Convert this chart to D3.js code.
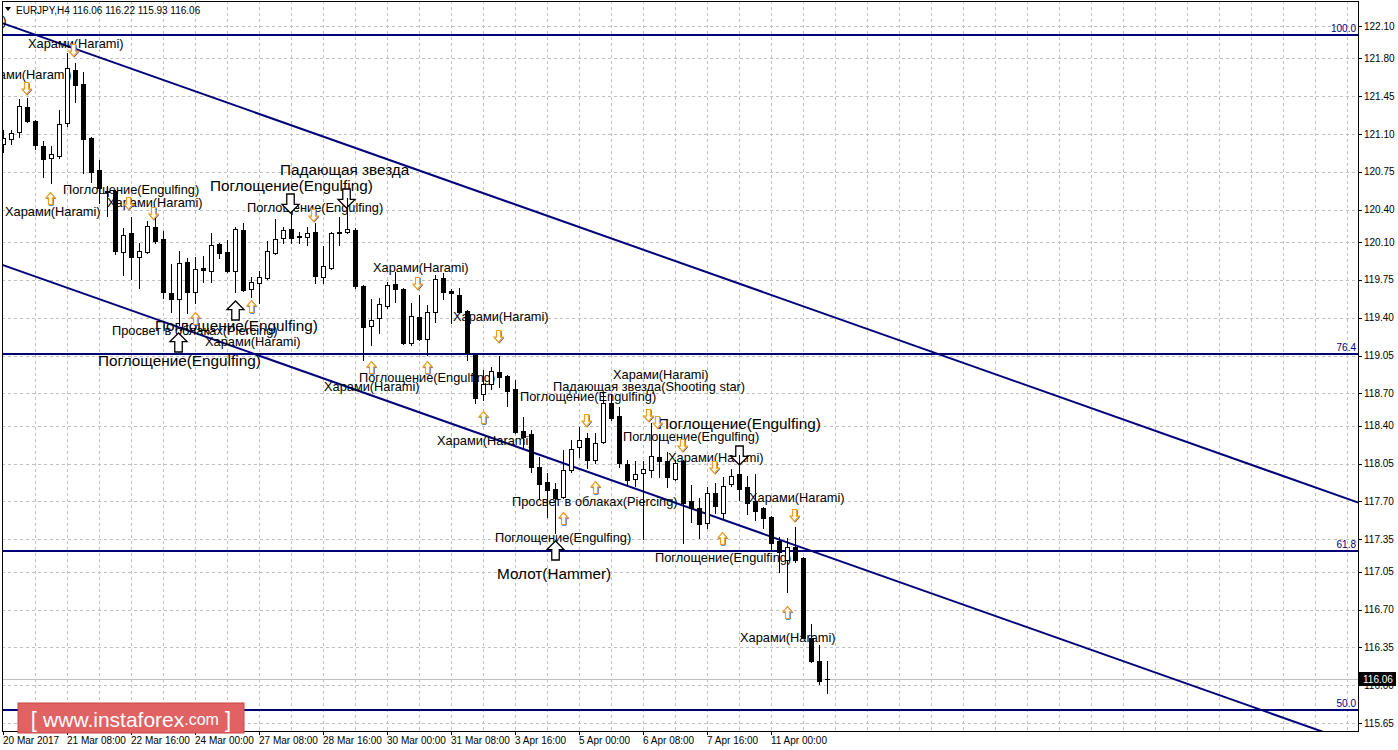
<!DOCTYPE html>
<html><head><meta charset="utf-8">
<script src="https://cdn.jsdelivr.net/npm/d3@7"></script>
<style>body{margin:0;background:#fff;overflow:hidden}svg{display:block}</style>
</head><body>
<svg id="c" width="1398" height="750"></svg>
<script>
// ---------- DATA ----------
const opens = [121.01,121.05,121.12,121.35,121.22,120.99,120.88,120.90,121.20,121.69,
121.56,121.06,120.77,120.57,120.57,120.01,120.18,119.96,120.01,120.24,
120.13,119.63,119.57,119.92,119.64,119.86,119.83,120.08,120.01,119.83,
120.21,119.67,119.72,119.77,120.00,120.14,120.22,120.16,120.15,120.19,
119.78,119.86,120.18,120.19,120.21,119.69,119.32,119.40,119.51,119.71,
119.67,119.17,119.41,119.20,119.45,119.77,119.65,119.61,119.46,119.06,
118.69,118.79,118.90,118.86,118.74,118.35,118.32,118.02,117.88,117.82,
117.74,117.99,118.20,118.29,118.08,118.25,118.61,118.49,118.05,117.91,
117.96,117.99,118.11,118.07,117.91,118.07,117.70,117.64,117.50,117.78,
117.59,117.86,117.95,117.83,117.70,117.64,117.56,117.33,117.16,117.28,
117.18,116.44,116.22,116.06];
const highs = [121.14,121.14,121.42,121.43,121.23,121.04,120.99,121.32,121.85,121.76,
121.67,121.07,120.86,120.62,120.58,120.23,120.33,120.09,120.30,120.32,
120.20,119.90,120.02,119.95,119.96,119.97,120.18,120.09,120.12,120.24,
120.28,119.78,119.83,120.11,120.31,120.24,120.37,120.19,120.24,120.28,
120.06,120.19,120.33,120.51,120.23,119.70,119.57,119.58,119.73,119.82,
119.68,119.54,119.61,119.52,119.80,119.81,119.67,119.68,119.47,119.07,
118.92,118.94,119.05,118.87,118.82,118.48,118.36,118.11,117.96,117.87,
118.18,118.27,118.39,118.33,118.33,118.71,118.69,118.57,118.08,118.07,
118.07,118.43,118.32,118.16,118.08,118.08,117.85,117.73,117.83,117.87,
117.93,118.00,118.13,117.94,117.95,117.65,117.57,117.37,117.36,117.46,
117.19,116.57,116.37,116.22];
const lows = [120.93,121.01,121.07,121.21,120.96,120.70,120.65,120.88,121.17,121.40,
120.74,120.66,120.46,120.34,119.99,119.80,119.76,119.68,120.00,120.09,
119.58,119.45,119.33,119.44,119.54,119.73,119.73,119.95,119.82,119.64,
119.65,119.59,119.54,119.76,119.99,120.09,120.09,120.09,120.07,119.72,
119.72,119.85,120.07,120.18,119.68,119.01,119.15,119.26,119.49,119.55,
119.16,119.15,119.19,119.06,119.36,119.57,119.35,119.44,119.01,118.61,
118.64,118.74,118.76,118.58,118.33,118.20,117.97,117.73,117.56,117.41,
117.73,117.97,118.11,118.01,118.06,118.24,118.45,118.02,117.85,117.84,
117.35,117.93,117.93,117.83,117.90,117.32,117.51,117.36,117.45,117.59,
117.54,117.84,117.71,117.58,117.53,117.45,117.25,117.05,116.86,117.14,
116.44,116.21,116.01,115.93];
const closes = [121.06,121.11,121.36,121.22,121.00,120.87,120.92,121.19,121.71,121.55,
121.05,120.75,120.60,120.56,120.02,120.17,119.96,120.02,120.25,120.11,
119.64,119.57,119.91,119.64,119.85,119.84,120.07,120.00,119.83,120.22,
119.66,119.73,119.78,120.02,120.13,120.21,120.14,120.15,120.18,119.79,
119.88,120.18,120.19,120.22,119.69,119.31,119.38,119.53,119.70,119.67,
119.17,119.42,119.20,119.45,119.76,119.64,119.63,119.45,119.07,118.66,
118.79,118.91,118.85,118.72,118.34,118.30,118.02,117.86,117.81,117.73,
117.99,118.19,118.27,118.08,118.24,118.61,118.47,118.06,117.90,117.95,
118.00,118.12,118.07,117.93,118.06,117.69,117.64,117.49,117.78,117.66,
117.84,117.94,117.82,117.69,117.61,117.55,117.32,117.23,117.28,117.16,
116.44,116.22,116.04,116.06];

const priceTicks = [122.10,121.80,121.45,121.10,120.75,120.40,120.10,119.75,119.40,119.05,
118.70,118.40,118.05,117.70,117.35,117.05,116.70,116.35,116.00,115.65];
const timeLabels = ["20 Mar 2017","21 Mar 08:00","22 Mar 16:00","24 Mar 00:00","27 Mar 08:00",
"28 Mar 16:00","30 Mar 00:00","31 Mar 08:00","3 Apr 16:00","5 Apr 00:00","6 Apr 08:00","7 Apr 16:00","11 Apr 00:00"];
const timeLabelBars = [0,8,16,24,32,40,48,56,64,72,80,88,96];

const fiboLabels = ["100.0","76.4","61.8","50.0"];
const fiboPrices = [122.017,119.065,117.24,115.77];

const channelUpper = [[-2,122.177],[172,117.622]];
const channelLower = [[-2,119.940],[172,115.385]];

const patternTexts = ["Харами(Harami)","Харами(Harami)","Харами(Harami)","Поглощение(Engulfing)","Харами(Harami)",
"Харами(Harami)","Поглощение(Engulfing)","Падающая звезда","Поглощение(Engulfing)","Просвет в облаках(Piercing)",
"Поглощение(Engulfing)","Харами(Harami)","Поглощение(Engulfing)","Харами(Harami)","Поглощение(Engulfing)",
"Харами(Harami)","Харами(Harami)","Харами(Harami)","Харами(Harami)","Падающая звезда(Shooting star)",
"Поглощение(Engulfing)","Поглощение(Engulfing)","Поглощение(Engulfing)","Харами(Harami)","Просвет в облаках(Piercing)",
"Поглощение(Engulfing)","Молот(Hammer)","Харами(Harami)","Поглощение(Engulfing)","Харами(Harami)"];
const patternBars = [-11.5,3.125,-3.375,7.5,0.25,13,25.875,34.625,30.5,13.625,
19,25.25,11.875,46.25,44.5,40.125,56.25,54.25,76.25,68.75,
64.625,81.875,77.5,83.125,63.625,61.5,61.75,93.25,81.5,92.125];
const patternPrices = [122.147,121.94,121.647,120.583,120.388,120.471,120.62,120.768,120.416,119.278,
119.324,119.176,119.0,119.861,118.843,118.76,119.408,118.26,118.871,118.76,
118.667,118.417,118.297,118.103,117.696,117.362,117.038,117.733,117.177,116.437];
const patternBig = [0,0,0,0,0,0,1,1,0,0, 1,0,1,0,0,0,0,0,0,0, 0,1,0,0,0,0,1,0,0,0];

const arrowBars = [8.75,2.875,5.875,15.625,18.75,35.875,38.75,42.875,21.875,29,
31,24,51.75,46,53,61.875,60,72.875,74,70,
69,80.625,81.75,84.875,88.875,92,89.875,98.875,98];
const arrowPrices = [121.878,121.527,120.51,120.462,120.37,120.462,120.352,120.51,119.176,119.472,
119.51,119.398,119.722,118.945,118.945,119.232,118.482,118.454,117.834,117.547,
117.251,118.5,118.436,118.223,118.019,118.13,117.362,117.575,116.678];
const arrowDown = [1,1,0,1,1,1,1,1,0,0, 0,0,1,0,0,1,0,1,0,0, 0,1,1,1,1,1,0,1,0];
const arrowBig = [0,0,0,0,0,1,0,1,1,1, 0,0,0,0,0,0,0,0,0,0, 1,0,0,0,0,1,0,0,0];

const header = "EURJPY,H4  116.06 116.22 115.93 116.06";
const lastPrice = 116.06;

// ---------- CHART ----------
const W = 1398, H = 750;
const P = {l: 2, r: 1358, t: 1, b: 731};
const svg = d3.select('#c');
const x = d3.scaleLinear().domain([0, 103]).range([3, 827]);
const y = d3.scaleLinear().domain([115.65, 122.10]).range([723, 26]);
const FONT = "'Liberation Sans', Arial, sans-serif";
const NAVY = "#00007a";

svg.append('rect').attr('width', W).attr('height', H).attr('fill', '#fff');
svg.append('defs').append('clipPath').attr('id', 'clip')
  .append('rect').attr('x', P.l).attr('y', P.t).attr('width', P.r - P.l).attr('height', P.b - P.t);

const g = svg.append('g').attr('clip-path', 'url(#clip)');

// grid
const gridBars = d3.range(4, 172, 4);
g.append('g').selectAll('line').data(gridBars).join('line')
  .attr('x1', d => Math.round(x(d)) + 0.5).attr('x2', d => Math.round(x(d)) + 0.5)
  .attr('y1', P.t).attr('y2', P.b)
  .attr('stroke', '#c0c0c0').attr('stroke-dasharray', '3,3');
g.append('g').selectAll('line').data(priceTicks).join('line')
  .attr('x1', P.l).attr('x2', P.r)
  .attr('y1', d => Math.round(y(d)) + 0.5).attr('y2', d => Math.round(y(d)) + 0.5)
  .attr('stroke', '#c0c0c0').attr('stroke-dasharray', '3,3');

// last price line
g.append('line').attr('x1', P.l).attr('x2', P.r)
  .attr('y1', Math.round(y(lastPrice)) + 0.5).attr('y2', Math.round(y(lastPrice)) + 0.5)
  .attr('stroke', '#c0c0c0');

// fibo lines
g.append('g').selectAll('line').data(fiboPrices).join('line')
  .attr('x1', P.l).attr('x2', P.r)
  .attr('y1', d => Math.round(y(d))).attr('y2', d => Math.round(y(d)))
  .attr('stroke', NAVY).attr('stroke-width', 2);
g.append('g').selectAll('text').data(fiboPrices).join('text')
  .attr('x', P.r - 2).attr('y', d => Math.round(y(d)) - 3)
  .attr('text-anchor', 'end').attr('fill', NAVY)
  .style('font', `10px ${FONT}`).text((d, i) => fiboLabels[i]);

// channel
const line = d3.line().x(d => x(d[0])).y(d => y(d[1]));
[channelUpper, channelLower].forEach(c => {
  g.append('path').attr('d', line(c)).attr('fill', 'none')
    .attr('stroke', NAVY).attr('stroke-width', 2);
});

// pattern texts
g.append('g').selectAll('text').data(patternTexts).join('text')
  .attr('x', (d, i) => x(patternBars[i])).attr('y', (d, i) => y(patternPrices[i]))
  .attr('dominant-baseline', 'central').attr('fill', '#000')
  .style('font-family', FONT)
  .style('font-size', (d, i) => patternBig[i] ? '15.3px' : '12.8px')
  .text(d => d);

// arrows
function arrowPath(cx, cy, w, h, down) {
  const s = w * 0.44, hh = h * 0.45;
  const x0 = cx - w / 2, x1 = cx + w / 2, s0 = cx - s / 2, s1 = cx + s / 2;
  const top = cy - h / 2, bot = cy + h / 2;
  if (down) {
    const hb = bot - hh;
    return `M${s0},${top}L${s1},${top}L${s1},${hb}L${x1},${hb}L${cx},${bot}L${x0},${hb}L${s0},${hb}Z`;
  }
  const hb = top + hh;
  return `M${s0},${bot}L${s1},${bot}L${s1},${hb}L${x1},${hb}L${cx},${top}L${x0},${hb}L${s0},${hb}Z`;
}
const ag = g.append('g');
arrowBars.forEach((b, i) => {
  const cx = Math.round(x(b)) + 0.5, cy = Math.round(y(arrowPrices[i])) + 0.5;
  if (arrowBig[i]) {
    ag.append('path').attr('d', arrowPath(cx, cy, 17, 19, arrowDown[i]))
      .attr('fill', '#fff').attr('stroke', '#000').attr('stroke-width', 1.3);
  } else {
    ag.append('path').attr('d', arrowPath(cx + 0.7, cy + 0.7, 9, 12, arrowDown[i]))
      .attr('fill', 'none').attr('stroke', '#3050c0').attr('stroke-width', 1);
    ag.append('path').attr('d', arrowPath(cx, cy, 9, 12, arrowDown[i]))
      .attr('fill', '#fff').attr('stroke', '#f0a020').attr('stroke-width', 1.2);
  }
});

// candles
const idx = d3.range(opens.length);
const cg = g.append('g').attr('shape-rendering', 'crispEdges');
idx.forEach(i => {
  const r = Math.round(x(i));
  const o = opens[i], c = closes[i];
  cg.append('line').attr('x1', r + 0.5).attr('x2', r + 0.5)
    .attr('y1', Math.round(y(highs[i]))).attr('y2', Math.round(y(lows[i])) + 1)
    .attr('stroke', '#000');
  const yt = Math.round(y(Math.max(o, c))), yb = Math.round(y(Math.min(o, c)));
  if (yb - yt < 1) {
    cg.append('line').attr('x1', r - 2).attr('x2', r + 3)
      .attr('y1', yt + 0.5).attr('y2', yt + 0.5).attr('stroke', '#000');
  } else if (c > o) {
    cg.append('rect').attr('x', r - 1.5).attr('y', yt + 0.5).attr('width', 4).attr('height', yb - yt)
      .attr('fill', '#fff').attr('stroke', '#000');
  } else {
    cg.append('rect').attr('x', r - 2).attr('y', yt).attr('width', 5).attr('height', yb - yt + 1)
      .attr('fill', '#000');
  }
});

// frame
svg.append('rect').attr('x', P.l + 0.5).attr('y', P.t + 0.5)
  .attr('width', P.r - P.l).attr('height', P.b - P.t)
  .attr('fill', 'none').attr('stroke', '#000').attr('shape-rendering', 'crispEdges');

// y axis
const ya = svg.append('g');
ya.selectAll('line').data(priceTicks).join('line')
  .attr('x1', P.r).attr('x2', P.r + 4)
  .attr('y1', d => Math.round(y(d)) + 0.5).attr('y2', d => Math.round(y(d)) + 0.5)
  .attr('stroke', '#000');
ya.selectAll('text').data(priceTicks).join('text')
  .attr('x', P.r + 6).attr('y', d => y(d)).attr('dominant-baseline', 'central')
  .style('font', `10px ${FONT}`).attr('fill', '#000')
  .text(d => d.toFixed(2));

// last price marker
const ly = Math.round(y(lastPrice));
svg.append('rect').attr('x', P.r + 1).attr('y', ly - 7).attr('width', 37).attr('height', 14).attr('fill', '#000');
svg.append('text').attr('x', P.r + 5).attr('y', ly).attr('dominant-baseline', 'central')
  .style('font', `10px ${FONT}`).attr('fill', '#fff').text(lastPrice.toFixed(2));

// x axis
const xa = svg.append('g');
xa.selectAll('line').data(timeLabelBars).join('line')
  .attr('x1', d => Math.round(x(d)) + 0.5).attr('x2', d => Math.round(x(d)) + 0.5)
  .attr('y1', P.b).attr('y2', P.b + 4).attr('stroke', '#000');
xa.selectAll('text').data(timeLabels).join('text')
  .attr('x', (d, i) => x(timeLabelBars[i]))
  .attr('y', P.b + 9).attr('dominant-baseline', 'central')
  .style('font', `10px ${FONT}`).attr('fill', '#000').text(d => d);

// header
svg.append('path').attr('d', 'M5,7L11,7L8,11Z').attr('fill', '#000');
svg.append('text').attr('x', 16).attr('y', 10).attr('dominant-baseline', 'central')
  .style('font', `10px ${FONT}`).attr('fill', '#000').text(header);

// watermark
const wm = svg.append('g');
wm.append('rect').attr('x', 18).attr('y', 703).attr('width', 226).attr('height', 30)
  .attr('fill', '#e06262').attr('stroke', '#c84848');
const wt = wm.append('text').attr('x', 131).attr('y', 719).attr('text-anchor', 'middle')
  .attr('dominant-baseline', 'central').attr('fill', '#fff')
  .style('font-family', "'Liberation Sans Narrow','Arial Narrow','Liberation Sans',sans-serif");
wt.append('tspan').style('font-size', '22px').text('[ ');
wt.append('tspan').style('font-size', '21px').text('www.instaforex');
wt.append('tspan').style('font-size', '16px').text('.com');
wt.append('tspan').style('font-size', '22px').text(' ]');
</script>
</body></html>
